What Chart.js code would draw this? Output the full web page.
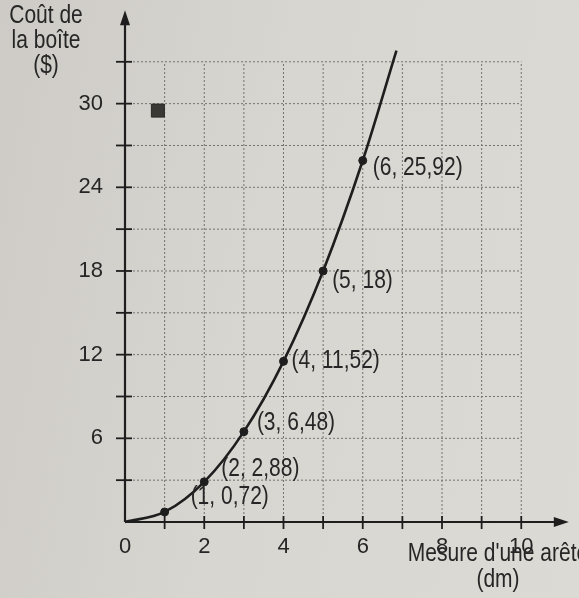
<!DOCTYPE html>
<html lang="fr">
<head>
<meta charset="utf-8">
<title>Coût de la boîte</title>
<script src="https://cdn.jsdelivr.net/npm/chart.js@4.4.1/dist/chart.umd.min.js"></script>
<style>
  html, body { margin: 0; padding: 0; background: #d6d4cf; }
  #wrap { width: 579px; height: 598px; background: linear-gradient(100deg, #cecbc6 0%, #d8d6d1 45%, #dcdad5 100%); }
</style>
</head>
<body>
<div id="wrap"><canvas id="costChart" width="579" height="598"></canvas></div>
<script>
// values
const edgeLengths = [1, 2, 3, 4, 5, 6];
const boxCosts = [0.72, 2.88, 6.48, 11.52, 18, 25.92];
const pointLabels = ['(1, 0,72)', '(2, 2,88)', '(3, 6,48)', '(4, 11,52)', '(5, 18)', '(6, 25,92)'];
const curveStart = [0, 0];
const curveEnd = [6.85, 33.8];
const squareMark = [0.83, 29.5];
const xLabelled = [0, 2, 4, 6, 8, 10];
const yLabelled = [6, 12, 18, 24, 30];
const gridMaxX = 10;
const gridMaxY = 33;
const xTitle = ["Mesure d'une arête", '(dm)'];
const yTitle = ['Coût de', 'la boîte', '($)'];

const FONT = '"Liberation Sans", Arial, sans-serif';
const INK = '#1e1e1e';
const TEXT = '#262626';

const curveData = [{ x: curveStart[0], y: curveStart[1] }]
  .concat(edgeLengths.map((v, i) => ({ x: v, y: boxCosts[i] })))
  .concat([{ x: curveEnd[0], y: curveEnd[1] }]);
const pointData = edgeLengths.map((v, i) => ({ x: v, y: boxCosts[i] }));

// shift of each point label from its point (px)
const labelShift = [[26, -15], [17, -13], [13, -9], [8, 0], [9, 10], [10, 8]];

// printed text is a condensed face: squeeze Liberation Sans a bit
function narrowText(ctx, str, x, y, size, align) {
  const squeeze = 0.84;
  ctx.save();
  ctx.font = size + 'px ' + FONT;
  ctx.textAlign = align;
  ctx.textBaseline = 'middle';
  ctx.translate(x, y);
  ctx.scale(squeeze, 1);
  ctx.fillText(str, 0, 0);
  ctx.restore();
}

const paperGrid = {
  id: 'paperGrid',
  beforeDatasetsDraw(chart) {
    const { ctx, chartArea, scales: { x, y } } = chart;
    const x0 = x.getPixelForValue(0);
    const y0 = y.getPixelForValue(0);
    const gx = x.getPixelForValue(gridMaxX);
    const gy = y.getPixelForValue(gridMaxY);
    ctx.save();
    ctx.strokeStyle = '#74726d';
    ctx.lineWidth = 1;
    ctx.setLineDash([2, 2]);
    for (let v = 1; v <= gridMaxX; v++) {
      const px = x.getPixelForValue(v);
      ctx.beginPath(); ctx.moveTo(px, y0); ctx.lineTo(px, gy); ctx.stroke();
    }
    for (let v = 3; v <= gridMaxY; v += 3) {
      const py = y.getPixelForValue(v);
      ctx.beginPath(); ctx.moveTo(x0, py); ctx.lineTo(gx, py); ctx.stroke();
    }
    ctx.setLineDash([]);

    ctx.strokeStyle = INK;
    ctx.lineWidth = 2.2;
    ctx.beginPath();
    ctx.moveTo(x0, y0); ctx.lineTo(x0, chartArea.top + 10);
    ctx.moveTo(x0, y0); ctx.lineTo(chartArea.right - 10, y0);
    ctx.stroke();

    ctx.lineWidth = 1.8;
    for (let v = 1; v <= gridMaxX; v++) {
      const px = x.getPixelForValue(v);
      ctx.beginPath(); ctx.moveTo(px, y0 - 6); ctx.lineTo(px, y0 + 7); ctx.stroke();
    }
    for (let v = 3; v <= gridMaxY; v += 3) {
      const py = y.getPixelForValue(v);
      ctx.beginPath(); ctx.moveTo(x0 - 9, py); ctx.lineTo(x0 + 7, py); ctx.stroke();
    }

    ctx.fillStyle = INK;
    ctx.beginPath();
    ctx.moveTo(x0, chartArea.top);
    ctx.lineTo(x0 - 5, chartArea.top + 15);
    ctx.lineTo(x0 + 5, chartArea.top + 15);
    ctx.closePath(); ctx.fill();
    ctx.beginPath();
    ctx.moveTo(chartArea.right, y0);
    ctx.lineTo(chartArea.right - 15, y0 - 5);
    ctx.lineTo(chartArea.right - 15, y0 + 5);
    ctx.closePath(); ctx.fill();
    ctx.restore();
  },
  afterDraw(chart) {
    const { ctx } = chart;
    const meta = chart.getDatasetMeta(1);
    ctx.save();
    ctx.fillStyle = TEXT;
    meta.data.forEach((pt, i) => {
      narrowText(ctx, pointLabels[i], pt.x + labelShift[i][0], pt.y + labelShift[i][1], 25, 'left');
    });
    yTitle.forEach((t, i) => narrowText(ctx, t, 46, 16 + i * 25, 25, 'center'));
    narrowText(ctx, xTitle[0], 498, 554, 25, 'center');
    narrowText(ctx, xTitle[1], 498, 580, 25, 'center');
    ctx.restore();
  }
};

const ctx = document.getElementById('costChart').getContext('2d');
new Chart(ctx, {
  type: 'scatter',
  data: {
    datasets: [{
      label: 'courbe',
      data: curveData,
      showLine: true,
      borderColor: INK,
      borderWidth: 2.6,
      pointRadius: 0,
      cubicInterpolationMode: 'monotone',
      clip: false
    }, {
      label: 'points',
      data: pointData,
      pointRadius: 4,
      pointBackgroundColor: INK,
      pointBorderColor: INK
    }, {
      label: 'carré',
      data: [{ x: squareMark[0], y: squareMark[1] }],
      pointStyle: 'rect',
      pointRadius: 9.2,
      pointBackgroundColor: '#3a3936',
      pointBorderColor: '#2a2927',
      pointBorderWidth: 1
    }]
  },
  options: {
    responsive: false,
    animation: false,
    events: [],
    layout: { padding: { top: 6, right: 4, left: 0, bottom: 0 } },
    plugins: { legend: { display: false }, tooltip: { enabled: false } },
    scales: {
      x: {
        type: 'linear',
        min: 0,
        max: 11.2,
        afterFit: s => { s.height = 76; s.paddingRight = 0; s.paddingLeft = 0; },
        grid: { display: false, drawTicks: false },
        border: { display: false },
        ticks: {
          stepSize: 1,
          autoSkip: false,
          maxRotation: 0,
          padding: 12,
          color: TEXT,
          font: { family: FONT, size: 22 },
          callback: v => xLabelled.includes(v) ? String(v) : ''
        }
      },
      y: {
        type: 'linear',
        min: 0,
        max: 36.7,
        afterFit: s => { s.width = 125; s.paddingTop = 0; s.paddingBottom = 0; },
        grid: { display: false, drawTicks: false },
        border: { display: false },
        ticks: {
          stepSize: 3,
          autoSkip: false,
          padding: 22,
          color: TEXT,
          font: { family: FONT, size: 22 },
          callback: v => yLabelled.includes(v) ? String(v) : ''
        }
      }
    }
  },
  plugins: [paperGrid]
});
</script>
</body>
</html>
